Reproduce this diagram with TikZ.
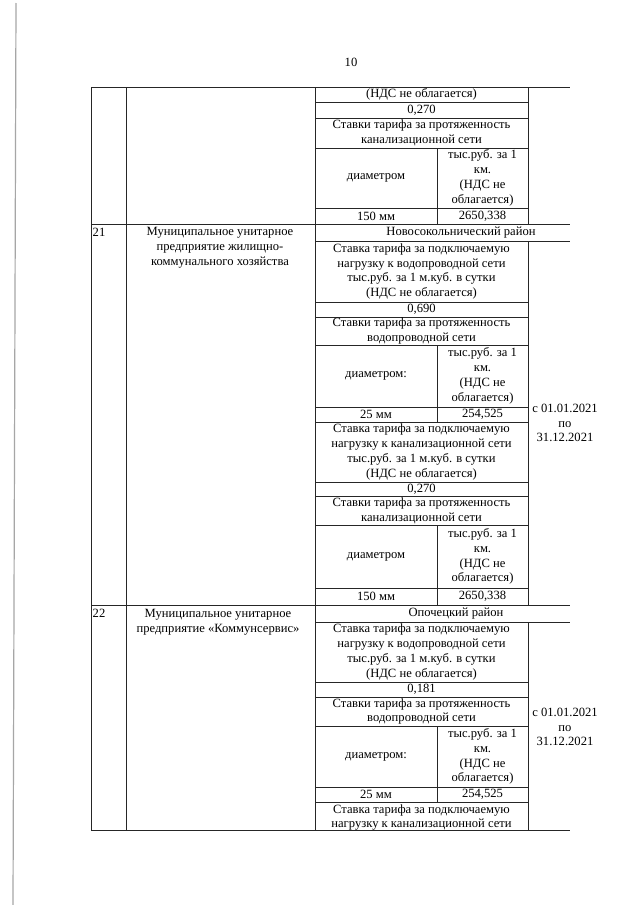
\documentclass[tikz,border=0pt]{standalone}
\usepackage{fontspec}
\setmainfont{Liberation Serif}
\begin{document}
\begin{tikzpicture}[x=1pt,y=-1pt,
  grid/.style={line width=0.8pt, black!85},
  txt/.style={inner sep=0pt, align=center, font=\fontsize{12.6}{14.8}\selectfont},
  scan/.style={line width=1.2pt, black!35}]
\useasboundingbox[fill=white] (0,0) rectangle (640,905);
% scan edge
\draw[scan] (16,3) -- (13,905);
% page number
\node[txt] (pg) at (351,62) {10};
% vertical lines
\draw[grid] (91,87) -- (91,830);
\draw[grid] (126,87) -- (126,830);
\draw[grid] (315,87) -- (315,830);
\draw[grid] (528,87) -- (528,224) (528,241) -- (528,605) (528,622) -- (528,830);
\draw[grid] (437,148) -- (437,224) (437,345) -- (437,422) (437,525) -- (437,605) (437,726) -- (437,802);
% horizontal full width
\foreach \y in {87,224,605,830} \draw[grid] (91,\y) -- (570,\y);
\foreach \y in {241,622} \draw[grid] (315,\y) -- (570,\y);
\foreach \y in {102,118,148,208,302,317,345,407,422,482,496,525,588,682,697,726,787,802}
  \draw[grid] (315,\y) -- (528,\y);
% row 20 (continued)
\node[txt] (a1) at (421.5,94.5) {(НДС не облагается)};
\node[txt] (a2) at (421.5,110) {0,270};
\node[txt] (a3) at (421.5,133) {Ставки тарифа за протяженность\\канализационной сети};
\node[txt] (a4) at (376,178) {диаметром};
\node[txt] (a5) at (482.5,178) {тыс.руб. за 1\\км.\\(НДС не\\облагается)};
\node[txt] (a6) at (376,216) {150 мм};
\node[txt] (a7) at (482.5,216) {2650,338};
% row 21
\node[txt] (b0) at (99,232) {21};
\node[txt] (b1) at (220,248) {Муниципальное унитарное\\предприятие жилищно-\\коммунального хозяйства};
\node[txt] (b2) at (461,232.5) {Новосокольнический район};
\node[txt] (b3) at (421.5,271.5) {Ставка тарифа за подключаемую\\нагрузку к водопроводной сети\\тыс.руб. за 1 м.куб. в сутки\\(НДС не облагается)};
\node[txt] (b4) at (421.5,309.5) {0,690};
\node[txt] (b5) at (421.5,331) {Ставки тарифа за протяженность\\водопроводной сети};
\node[txt] (b6) at (376,376) {диаметром:};
\node[txt] (b7) at (482.5,376) {тыс.руб. за 1\\км.\\(НДС не\\облагается)};
\node[txt] (b8) at (376,414.5) {25 мм};
\node[txt] (b9) at (482.5,414.5) {254,525};
\node[txt] (b10) at (421.5,452) {Ставка тарифа за подключаемую\\нагрузку к канализационной сети\\тыс.руб. за 1 м.куб. в сутки\\(НДС не облагается)};
\node[txt] (b11) at (421.5,489) {0,270};
\node[txt] (b12) at (421.5,510.5) {Ставки тарифа за протяженность\\канализационной сети};
\node[txt] (b13) at (376,556.5) {диаметром};
\node[txt] (b14) at (482.5,556.5) {тыс.руб. за 1\\км.\\(НДС не\\облагается)};
\node[txt] (b15) at (376,596.5) {150 мм};
\node[txt] (b16) at (482.5,596.5) {2650,338};
\node[txt] (b17) at (565,423) {с 01.01.2021\\по\\31.12.2021};
% row 22
\node[txt] (c0) at (99,613) {22};
\node[txt] (c1) at (218,622) {Муниципальное унитарное\\предприятие «Коммунсервис»};
\node[txt] (c2) at (456,613.5) {Опочецкий район};
\node[txt] (c3) at (421.5,652) {Ставка тарифа за подключаемую\\нагрузку к водопроводной сети\\тыс.руб. за 1 м.куб. в сутки\\(НДС не облагается)};
\node[txt] (c4) at (421.5,689.5) {0,181};
\node[txt] (c5) at (421.5,711.5) {Ставки тарифа за протяженность\\водопроводной сети};
\node[txt] (c6) at (376,756.5) {диаметром:};
\node[txt] (c7) at (482.5,756.5) {тыс.руб. за 1\\км.\\(НДС не\\облагается)};
\node[txt] (c8) at (376,794.5) {25 мм};
\node[txt] (c9) at (482.5,794.5) {254,525};
\node[txt] (c10) at (421.5,817.5) {Ставка тарифа за подключаемую\\нагрузку к канализационной сети};
\node[txt] (c11) at (565,727) {с 01.01.2021\\по\\31.12.2021};
\end{tikzpicture}
\end{document}
